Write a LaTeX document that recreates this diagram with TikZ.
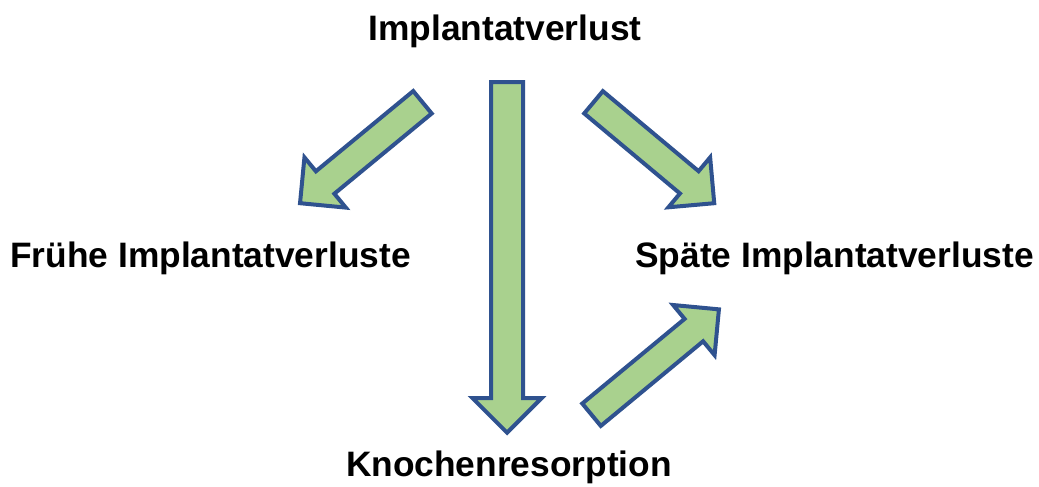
\documentclass[tikz,border=0pt]{standalone}
\usepackage{fontspec}
\setmainfont{Liberation Sans}
\usepackage{xcolor}
\usepackage{tikz}
\usetikzlibrary{arrows.meta, positioning, shapes.arrows}
\definecolor{implGreen}{RGB}{169,209,142}
\definecolor{implBlue}{RGB}{47,82,143}

\tikzset{
    titel/.style={font=\fontsize{26.5}{30}\selectfont\bfseries, inner sep=0pt},
    blockpfeil/.style={single arrow, draw=implBlue, fill=implGreen, line width=3pt,
        minimum width=0pt, inner xsep=0pt, line join=miter},
    breitpfeil/.style={blockpfeil, inner ysep=10.5pt, single arrow head extend=13.9pt},
    schmalpfeil/.style={blockpfeil, inner ysep=9.4pt, single arrow head extend=13.5pt}
}

\begin{document}
\begin{tikzpicture}[x=0.75pt, y=-0.75pt]
\useasboundingbox (0,0) rectangle (1039,486);

\node[titel, anchor=base] (verlust) at (505,40) {Implantatverlust};
\node[titel, anchor=base west] (frueh) at (10,267) {Frühe Implantatverluste};
\node[titel, anchor=base west] (spaet) at (635,267) {Späte Implantatverluste};
\node[titel, anchor=base] (resorption) at (509,476) {Knochenresorption};

\node[breitpfeil, minimum height=263pt, rotate=-90, anchor=tail] (pfeilResorption) at (507,80) {};
\node[schmalpfeil, minimum height=119pt, rotate=219.5, anchor=tail] (pfeilFrueh) at (424,101) {};
\node[schmalpfeil, minimum height=118pt, rotate=-39.9, anchor=tail] (pfeilSpaet) at (592,101) {};
\node[schmalpfeil, minimum height=124pt, rotate=39.6, anchor=tail] (pfeilSpaetResorption) at (590,416) {};
\end{tikzpicture}
\end{document}
